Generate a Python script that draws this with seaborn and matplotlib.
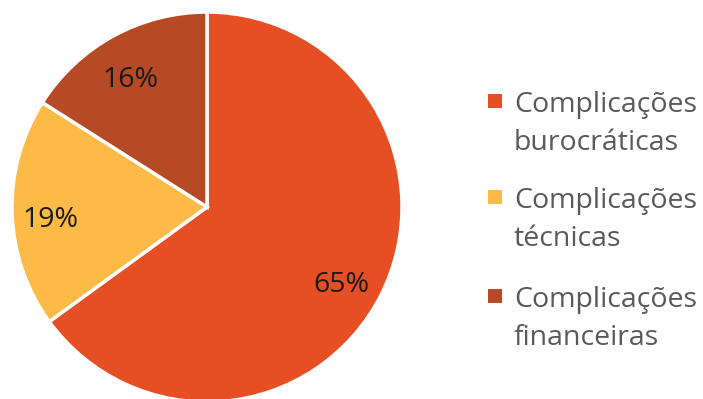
import matplotlib
matplotlib.use('Agg')
import matplotlib.pyplot as plt
import matplotlib.transforms as mtransforms
from matplotlib.patches import Rectangle
import seaborn as sns

# data
categories = ['Complicações\nburocráticas', 'Complicações\ntécnicas', 'Complicações\nfinanceiras']
shares = [65, 19, 16]
colors = ['#E64E24', '#FEBA46', '#B64926']

sns.set_theme(style='white')
plt.rcParams['font.family'] = ['Open Sans', 'DejaVu Sans']

fig = plt.figure(figsize=(7.03, 3.99), dpi=100)
# pie centre ~ (207, 207) px, radius ~195 px
ax = fig.add_axes([12 / 703, (399 - 207 - 195) / 399, 390 / 703, 390 / 399])

wedges, texts, autotexts = ax.pie(
    shares, colors=colors, startangle=90, counterclock=False,
    autopct='%1.0f%%', pctdistance=0.79,
    wedgeprops={'edgecolor': 'white', 'linewidth': 2.5},
    textprops={'fontsize': 20.5, 'color': '#1a1a1a'},
)
ax.set_aspect('equal')
ax.set_xlim(-1, 1)
ax.set_ylim(-1, 1)

# nudge the percentage labels down a little, like the original
shift = mtransforms.ScaledTranslation(-2 / 72, -6 / 72, fig.dpi_scale_trans)
for t in autotexts:
    t.set_transform(t.get_transform() + shift)

# legend drawn by hand so squares line up with the first text line
baselines = [112, 208, 307]
for lab, col, y in zip(categories, colors, baselines):
    fig.patches.append(Rectangle((488 / 703, 1 - (y - 4) / 399), 14 / 703, 14 / 399,
                                 transform=fig.transFigure, facecolor=col, edgecolor='none'))
    for i, line in enumerate(lab.split('\n')):
        fig.text(514 / 703, 1 - (y + 38 * i) / 399, line, fontsize=20.5, color='#595959',
                 va='baseline', ha='left')

fig.savefig('out.png', dpi=100)
